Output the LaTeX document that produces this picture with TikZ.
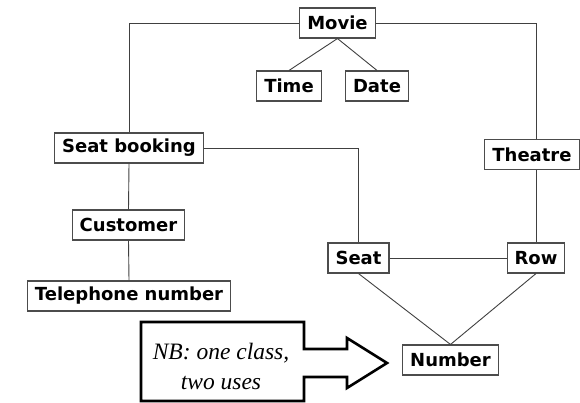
\documentclass[tikz,border=0pt]{standalone}
\usepackage{fontspec}
\setmainfont{DejaVu Sans}
\newfontfamily\notefont{Liberation Serif}
\begin{document}
\begin{tikzpicture}[x=1pt,y=-1pt,
  cls/.style={draw=black!70, line width=1.1pt, fill=white,
    font=\fontsize{18}{20}\selectfont\bfseries,
    minimum height=30pt, inner xsep=7.5pt, inner ysep=0pt},
  link/.style={draw=black!75, line width=0.9pt},
  callout/.style={draw=black, line width=2.6pt, line join=miter}]
\useasboundingbox (0,0) rectangle (580,403);

% classes
\node[cls] (movie)   at (337.5,23)  {Movie};
\node[cls] (time)    at (289,86)    {Time};
\node[cls] (date)    at (377,86)    {Date};
\node[cls] (booking) at (129,148)   {Seat booking};
\node[cls] (theatre) at (532,154.5) {Theatre};
\node[cls] (customer) at (128.5,225) {Customer};
\node[cls] (phone)   at (129,296)   {Telephone number};
\node[cls] (seat)    at (358.5,258) {Seat};
\node[cls] (row)     at (536,258)   {Row};
\node[cls] (number)  at (450.5,360) {Number};

% associations
\draw[link] (movie.west) -| (booking.north);
\draw[link] (movie.east) -| (theatre.north -| row.north);
\draw[link] (theatre.south -| row.north) -- (row.north);
\draw[link] (movie.south) -- (time.north);
\draw[link] (movie.south) -- (date.north);
\draw[link] (booking.east) -| (seat.north);
\draw[link] (booking.south) -- (customer.north);
\draw[link] (customer.south) -- (phone.north);
\draw[link] (seat.east) -- (row.west);
\draw[link] (seat.south) -- (number.north);
\draw[link] (row.south) -- (number.north);

% note with its arrow
\draw[callout] (141,322) -- (304,322) -- (304,349) -- (347,349) -- (347,338)
  -- (387,363) -- (347,388) -- (347,377) -- (304,377) -- (304,401)
  -- (141,401) -- cycle;
\node[font=\notefont\itshape\fontsize{23.5}{30}\selectfont, align=center]
  (note) at (221,366) {NB: one class,\\two uses};
\end{tikzpicture}
\end{document}
